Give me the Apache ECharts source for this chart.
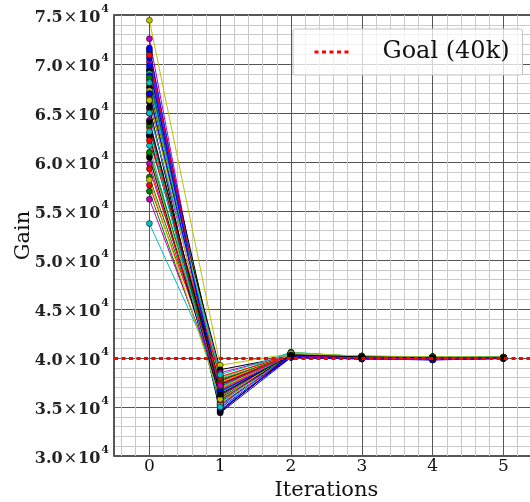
<!DOCTYPE html>
<html>
<head>
<meta charset="utf-8">
<script src="https://cdn.jsdelivr.net/npm/echarts@6/dist/echarts.min.js"></script>
<style>html,body{margin:0;padding:0;background:#fff}#c{width:530px;height:502px}</style>
</head>
<body>
<div id="c"></div>
<script>
// Iterations (x values)
const iterations = [0, 1, 2, 3, 4, 5];
// Colour cycle: b, g, r, c, m, y, k (7 runs per colour)
const runColors = ['#0000ff', '#008000', '#ff0000', '#00bfbf', '#bf00bf', '#bfbf00', '#000000'];
const runsPerColor = 7;
const goalValue = 40000;
const goalLabel = 'Goal (40k)';
const yTickLabels = ['3.0', '3.5', '4.0', '4.5', '5.0', '5.5', '6.0', '6.5', '7.0', '7.5'];

// Gain per iteration, grouped by colour (b, g, r, c, m, y, k), 7 runs each
const gainIter0 = [
  71630, 71400, 70580, 68800, 62780, 69800, 67000,
  69300, 58480, 57020, 68600, 66500, 63800, 61000,
  68360, 63530, 57640, 70900, 66900, 62200, 59300,
  71190, 69040, 61690, 53720, 68100, 65000, 63100,
  72580, 70200, 65400, 64960, 64270, 59850, 56200,
  74460, 67820, 67270, 66760, 66300, 60700, 58200,
  69450, 67600, 66110, 65600, 62600, 60460, 64100
];
const gainIter1 = [
  34400, 34700, 35300, 36200, 35800, 34900, 36600,
  36900, 37300, 36500, 35600, 37800, 36100, 37100,
  36300, 35500, 37600, 35100, 36800, 38100, 37400,
  35900, 37000, 35400, 37900, 36400, 38300, 35000,
  34600, 35200, 36700, 38500, 35700, 36200, 37200,
  39260, 36000, 37500, 35300, 38000, 36900, 35800,
  37700, 36500, 38800, 34500, 37300, 35900, 36300
];
const gainIter2 = [
  40050, 40100, 40150, 40200, 40120, 40080, 40180,
  40350, 40400, 40300, 40450, 40250, 40380, 40320,
  40300, 40250, 40350, 40200, 40400, 40280, 40330,
  40550, 40450, 40500, 40600, 40400, 40480, 40520,
  40200, 40150, 40250, 40300, 40220, 40180, 40260,
  40450, 40500, 40400, 40550, 40350, 40420, 40480,
  40250, 40300, 40200, 40350, 40280, 40230, 40310
];
const gainIter3 = [
  39900, 39950, 39920, 39980, 39940, 39910, 39960,
  40100, 40150, 40120, 40080, 40160, 40110, 40130,
  40050, 40100, 40020, 40080, 40060, 40120, 40040,
  40150, 40120, 40180, 40100, 40140, 40170, 40110,
  40000, 40050, 39980, 40030, 40010, 40060, 40020,
  40180, 40150, 40200, 40130, 40170, 40160, 40190,
  40100, 40080, 40130, 40060, 40110, 40090, 40120
];
const gainIter4 = [
  39820, 39850, 39800, 39880, 39840, 39860, 39830,
  40050, 40080, 40030, 40100, 40060, 40070, 40040,
  40000, 40030, 39980, 40050, 40010, 40020, 39990,
  40100, 40080, 40120, 40060, 40090, 40110, 40070,
  39950, 39980, 39920, 39970, 39940, 39960, 39930,
  40120, 40100, 40140, 40090, 40110, 40130, 40080,
  40050, 40030, 40070, 40000, 40040, 40060, 40020
];
const gainIter5 = [
  39960, 39980, 39950, 39990, 39970, 39940, 39985,
  40060, 40080, 40050, 40070, 40040, 40065, 40075,
  40030, 40050, 40020, 40040, 40010, 40035, 40045,
  40080, 40070, 40090, 40060, 40085, 40075, 40065,
  40000, 40020, 39990, 40010, 39995, 40005, 40015,
  40070, 40090, 40060, 40080, 40075, 40085, 40065,
  40040, 40030, 40050, 40020, 40045, 40035, 40025
];

const gainByIter = [gainIter0, gainIter1, gainIter2, gainIter3, gainIter4, gainIter5];
const FONT = 'DejaVu Serif';
const GOAL_DASH = [4, 3.5];

const series = [];
for (let r = 0; r < runsPerColor; r++) {
  for (let c = 0; c < runColors.length; c++) {
    const idx = c * runsPerColor + r;
    const col = runColors[c];
    series.push({
      type: 'line',
      name: 'run' + idx,
      xAxisIndex: 0, yAxisIndex: 0,
      data: iterations.map((it, j) => [it, gainByIter[j][idx]]),
      symbol: 'circle', symbolSize: 6,
      lineStyle: { width: 1, color: col },
      itemStyle: { color: col, borderColor: 'rgba(0,0,0,0.85)', borderWidth: 0.6 },
      emphasis: { disabled: true },
      silent: true, animation: false, z: 3
    });
  }
}
series.push({
  type: 'line', name: goalLabel, data: [],
  xAxisIndex: 0, yAxisIndex: 0,
  symbol: 'none',
  lineStyle: { color: '#ff0000', width: 3, type: GOAL_DASH },
  itemStyle: { color: '#ff0000' },
  markLine: {
    silent: true, symbol: 'none', animation: false,
    label: { show: false },
    lineStyle: { color: '#ff0000', width: 3, type: GOAL_DASH, opacity: 1 },
    emphasis: { disabled: true },
    data: [{ yAxis: goalValue }]
  },
  z: 4, animation: false
});

const chart = echarts.init(document.getElementById('c'), null, { renderer: 'canvas' });
chart.setOption({
  animation: false,
  backgroundColor: '#fff',
  grid: {
    left: 114, top: 15, right: -8.8, bottom: 46,
    containLabel: false, outerBoundsMode: 'none',
    show: true, borderColor: '#222', borderWidth: 1.5, backgroundColor: 'transparent'
  },
  legend: {
    data: [goalLabel], selectedMode: false,
    left: 293, top: 29,
    padding: [10, 13, 10, 20],
    itemWidth: 37, itemHeight: 14,
    itemStyle: { opacity: 0 },
    lineStyle: { width: 3, color: '#ff0000', type: GOAL_DASH },
    backgroundColor: 'rgba(255,255,255,0.75)',
    borderColor: '#c4c4c4', borderWidth: 1, borderRadius: 2,
    textStyle: { fontFamily: FONT, fontSize: 24, color: '#111', padding: [0, 0, 0, 26], lineHeight: 26 }
  },
  xAxis: [{
    type: 'value', min: -0.5, max: 5.5, splitNumber: 6,
    name: 'Iterations', nameLocation: 'middle', nameGap: 24, nameMoveOverlap: false,
    nameTextStyle: { fontFamily: FONT, fontSize: 21, color: '#111' },
    axisLine: { show: false },
    axisTick: { show: false },
    axisLabel: {
      fontFamily: FONT, fontSize: 17, color: '#111', margin: 2,
      showMinLabel: false, showMaxLabel: false,
      formatter: v => (Math.abs(v - Math.round(v)) < 1e-9 ? String(Math.round(v)) : '')
    },
    splitLine: { show: true, lineStyle: { color: '#555', width: 1 } },
    z: 1
  }, {
    type: 'value', min: -0.5, max: 5.5, splitNumber: 30, position: 'bottom',
    axisLine: { show: false }, axisTick: { show: false }, axisLabel: { show: false },
    splitLine: { show: true, lineStyle: { color: '#cacaca', width: 1 } },
    z: 0
  }],
  yAxis: {
    type: 'value', min: 30000, max: 75000, interval: 5000,
    name: 'Gain', nameLocation: 'middle', nameGap: 80, nameMoveOverlap: false,
    nameTextStyle: { fontFamily: FONT, fontSize: 21, color: '#111' },
    axisLine: { show: false }, axisTick: { show: false },
    minorTick: { show: false, splitNumber: 5 },
    minorSplitLine: { show: true, lineStyle: { color: '#cacaca', width: 1 } },
    splitLine: { show: true, lineStyle: { color: '#555', width: 1 } },
    axisLabel: {
      margin: 5,
      formatter: (v, i) => '{b|' + yTickLabels[i] + '}{x|×}{b|10}{s|4}',
      rich: {
        b: { fontFamily: FONT, fontSize: 16, fontWeight: 'bold', color: '#222', lineHeight: 22, verticalAlign: 'bottom' },
        x: { fontFamily: FONT, fontSize: 16, color: '#222', lineHeight: 22, verticalAlign: 'bottom', padding: [0, 1, 0, 1] },
        s: { fontFamily: FONT, fontSize: 11, fontWeight: 'bold', color: '#222', lineHeight: 22, verticalAlign: 'top', padding: [0, 0, 8, 1] }
      }
    }
  },
  series: series
});
</script>
</body>
</html>
